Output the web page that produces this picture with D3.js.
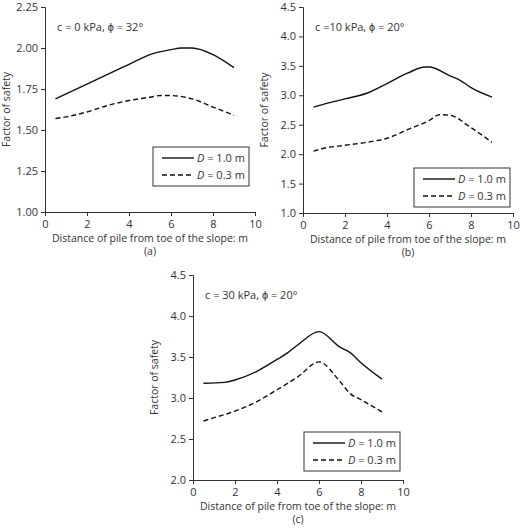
<!DOCTYPE html><html><head><meta charset="utf-8"><script src="https://cdn.jsdelivr.net/npm/d3@7"></script>
<style>body{margin:0;background:#fff}text{font-family:"Open Sans",sans-serif;fill:#333}</style></head><body><svg id="s" width="520" height="528"></svg><script>
const xA=[0.5,1,2,3,4,5,6,6.5,7,8,9];
const aSolid=[1.69,1.72,1.78,1.84,1.90,1.96,1.99,2.0,2.0,1.96,1.88];
const xA2=[0.5,1,2,3,4,5,5.5,6,7,8,9];
const aDash=[1.57,1.58,1.61,1.65,1.68,1.70,1.71,1.71,1.69,1.64,1.59];
const xB=[0.5,1,2,3,4,5,5.8,6,7,7.5,8,9];
const bSolid=[2.8,2.85,2.94,3.03,3.2,3.38,3.48,3.48,3.33,3.25,3.13,2.97];
const xB2=[0.5,1,2,3,4,5,6,6.5,7,8,9];
const bDash=[2.05,2.1,2.15,2.2,2.27,2.42,2.57,2.67,2.66,2.45,2.2];
const xC=[0.5,1.5,2,3,4,4.5,5,6,7,7.5,8,9];
const cSolid=[3.18,3.19,3.22,3.32,3.47,3.55,3.65,3.81,3.62,3.55,3.43,3.23];
const xC2=[0.5,1,2,3,4,5,6,7,7.5,8,9];
const cDash=[2.72,2.76,2.84,2.95,3.1,3.26,3.44,3.2,3.05,2.98,2.83];
const xTicks=[0,2,4,6,8,10];
const panels=[
{x0:45,y0:7,y1:212,dom:[1,2.25],yt:[1,1.25,1.5,1.75,2,2.25],fmt:".2f",note:"c = 0 kPa, ϕ = 32°",lab:"(a)",s:[xA,aSolid],d:[xA2,aDash],leg:[153,147]},
{x0:303,y0:7,y1:213,dom:[1,4.5],yt:[1,1.5,2,2.5,3,3.5,4,4.5],fmt:".1f",note:"c =10 kPa, ϕ = 20°",lab:"(b)",s:[xB,bSolid],d:[xB2,bDash],leg:[414,168]},
{x0:193,y0:275,y1:480,dom:[2,4.5],yt:[2,2.5,3,3.5,4,4.5],fmt:".1f",note:"c = 30 kPa, ϕ = 20°",lab:"(c)",s:[xC,cSolid],d:[xC2,cDash],leg:[304,432]}];
const svg=d3.select("#s");
panels.forEach(p=>{
 const g=svg.append("g");
 const x=d3.scaleLinear().domain([0,10]).range([p.x0,p.x0+210]);
 const y=d3.scaleLinear().domain(p.dom).range([p.y1,p.y0]);
 const ax=g.append("g").attr("transform",`translate(0,${p.y1})`).call(d3.axisBottom(x).tickValues(xTicks).tickSize(4).tickFormat(d3.format("d")));
 const ay=g.append("g").attr("transform",`translate(${p.x0},0)`).call(d3.axisLeft(y).tickValues(p.yt).tickSize(4).tickFormat(d3.format(p.fmt)));
 [ax,ay].forEach(a=>{a.select(".domain").attr("stroke","#333");a.selectAll("line").attr("stroke","#333");a.selectAll("text").style("font-size","11px").attr("fill","#333");});
 ax.selectAll("text").attr("dy","0.8em");
 g.append("text").attr("x",p.x0+105).attr("y",p.y1+30).attr("text-anchor","middle").style("font-size","10.5px").text("Distance of pile from toe of the slope: m");
 g.append("text").attr("x",p.x0+105).attr("y",p.y1+43).attr("text-anchor","middle").style("font-size","10.5px").text(p.lab);
 g.append("text").attr("transform",`translate(${p.x0-35},${(p.y0+p.y1)/2}) rotate(-90)`).attr("text-anchor","middle").style("font-size","10.5px").text("Factor of safety");
 g.append("text").attr("x",p.x0+12).attr("y",p.y0+24).style("font-size","11px").text(p.note);
 const line=d3.line().x(d=>x(d[0])).y(d=>y(d[1])).curve(d3.curveMonotoneX);
 g.append("path").attr("d",line(d3.zip(p.s[0],p.s[1]))).attr("fill","none").attr("stroke","#111").attr("stroke-width",1.4);
 g.append("path").attr("d",line(d3.zip(p.d[0],p.d[1]))).attr("fill","none").attr("stroke","#111").attr("stroke-width",1.4).attr("stroke-dasharray","5,3");
 const [lx,ly]=p.leg;
 const L=g.append("g").attr("transform",`translate(${lx},${ly})`);
 L.append("rect").attr("width",96).attr("height",39).attr("fill","#fff").attr("stroke","#333");
 L.append("line").attr("x1",9).attr("x2",41).attr("y1",11).attr("y2",11).attr("stroke","#111").attr("stroke-width",1.4);
 L.append("line").attr("x1",9).attr("x2",41).attr("y1",28).attr("y2",28).attr("stroke","#111").attr("stroke-width",1.4).attr("stroke-dasharray","5,3");
 [["1.0",15],["0.3",32]].forEach(([v,yy])=>{const t=L.append("text").attr("x",44).attr("y",yy).style("font-size","11px");t.append("tspan").attr("font-style","italic").text("D");t.append("tspan").text(" = "+v+" m");});
});
</script></body></html>
